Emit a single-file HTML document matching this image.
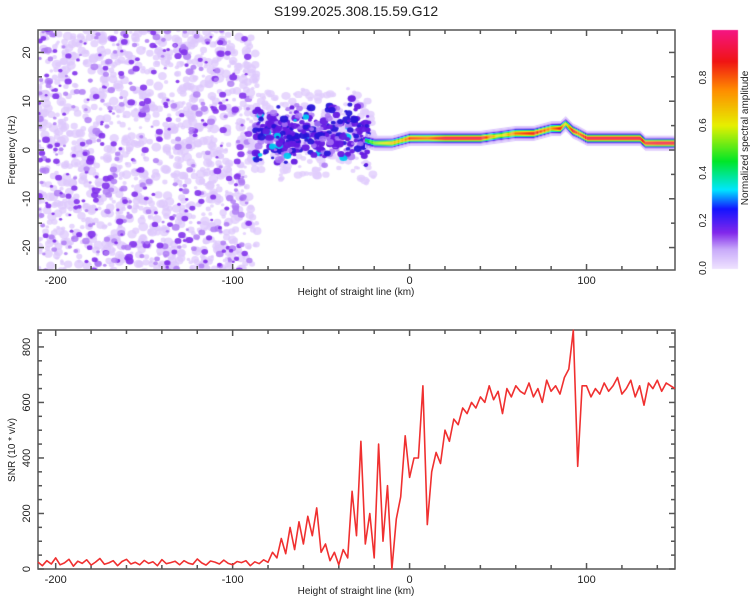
<!DOCTYPE html>
<html><head><meta charset="utf-8"><style>
body{margin:0;background:#fff;width:750px;height:600px;overflow:hidden;font-family:"Liberation Sans",sans-serif}
#wrap{position:relative;width:750px;height:600px}
canvas,svg{position:absolute;left:0;top:0}
</style></head><body>
<div id="wrap">
<canvas id="hm" width="750" height="600"></canvas>
<svg id="svg" width="750" height="600"></svg>
</div>
<script>
// ---- data ----
const ridgeHeights = [-88,-80,-70,-60,-50,-40,-30,-25,-20,-10,-5,0,10,20,40,50,60,70,80,85,88,92,95,100,110,120,130,133,140,150];
const ridgeFreq    = [3,3,2.5,4,3,4,3.5,2,1.5,1.5,2,2.5,2.5,2.5,2.5,3,3.5,3.5,4.5,4.5,5.5,4,3.5,2.5,2.5,2.5,2.5,1.5,1.5,1.5];
const ridgeAmp     = [0.2,0.22,0.22,0.25,0.22,0.25,0.22,0.45,0.55,0.7,0.7,0.85,0.8,0.95,0.95,0.6,0.8,0.9,0.75,0.9,0.6,0.95,0.8,0.95,0.95,0.95,0.95,0.9,0.95,0.95];
const snrStart = -210, snrStep = 2.5;
const snrValues = [25,12,30,18,40,15,22,35,10,28,
20,33,14,25,38,17,22,30,12,27,
35,18,24,15,31,20,26,12,34,19,
23,28,15,30,21,17,36,22,14,29,
25,18,32,20,15,27,23,30,12,26,
19,33,24,60,40,110,55,150,70,170,
90,190,120,220,60,90,30,60,15,70,
40,280,120,460,90,200,40,450,100,300,
0,180,260,480,330,400,400,660,160,350,
420,380,500,460,540,520,580,560,600,580,
620,600,660,610,640,560,650,620,660,640,
630,670,620,650,600,680,640,660,630,690,
720,860,370,660,660,620,650,630,670,640,
660,690,630,650,680,620,660,590,670,650,
680,640,670,660,650];
const xTicks = [-200,-100,0,100];
const topYTicks = [-20,-10,0,10,20];
const botYTicks = [0,200,400,600,800];
const cbTicks = [0.0,0.2,0.4,0.6,0.8];

// ---- geometry ----
const PL=38, PR=675, T1=30, B1=270, T2=330, B2=569;
const XMIN=-210, XMAX=150;
const sx = v => PL + (v-XMIN)/(XMAX-XMIN)*(PR-PL);
const syF = v => T1 + (24.6-v)/(49.2)*(B1-T1);
const syS = v => B2 - v/861*(B2-T2);
const CBX=712, CBW=26, CBT=30, CBB=268;
const syC = v => CBB - v*(CBB-CBT);

function cmap(t){
  const stops=[[0,[238,226,255]],[0.08,[200,170,250]],[0.15,[130,40,235]],[0.25,[20,20,255]],[0.33,[0,230,255]],[0.45,[0,230,40]],[0.6,[230,240,0]],[0.75,[255,140,0]],[0.87,[240,20,20]],[1,[245,20,130]]];
  t=Math.max(0,Math.min(1,t));
  for(let i=1;i<stops.length;i++){ if(t<=stops[i][0]){const a=stops[i-1],b=stops[i];const f=(t-a[0])/(b[0]-a[0]);
    return a[1].map((c,k)=>Math.round(c+(b[1][k]-c)*f));}}
  return stops[stops.length-1][1];
}
function interp(xs,ys,x){ if(x<=xs[0])return ys[0]; for(let i=1;i<xs.length;i++) if(x<=xs[i]){const f=(x-xs[i-1])/(xs[i]-xs[i-1]);return ys[i-1]+(ys[i]-ys[i-1])*f;} return ys[ys.length-1]; }

// ---- heatmap ----
const ctx=document.getElementById('hm').getContext('2d');
ctx.save(); ctx.beginPath(); ctx.rect(PL,T1,PR-PL,B1-T1); ctx.clip();
let seed=12345; const rnd=()=>{seed=(seed*1103515245+12345)%2147483648;return seed/2147483648;};
// noise texture left region
for(let i=0;i<1250;i++){ const h=XMIN+rnd()*(-86-XMIN), f=-25+rnd()*50, r=1.5+rnd()*3;
  ctx.fillStyle='rgba(222,200,252,0.75)'; ctx.beginPath(); ctx.ellipse(sx(h),syF(f),r*1.1,r,0,0,7); ctx.fill(); }
for(let i=0;i<450;i++){ const h=XMIN+rnd()*(-90-XMIN), f=-25+rnd()*50, r=1.2+rnd()*2.2;
  ctx.fillStyle=rnd()<0.5?'rgba(130,50,235,0.9)':'rgba(175,125,245,0.85)'; ctx.beginPath(); ctx.ellipse(sx(h),syF(f),r*1.2,r,0,0,7); ctx.fill(); }
// scatter around noisy ridge
for(let i=0;i<200;i++){ const h=-90+rnd()*70, fr=interp(ridgeHeights,ridgeFreq,h), f=fr+(rnd()-0.5)*18, r=1.5+rnd()*2.5;
  ctx.fillStyle='rgba(225,205,252,0.8)'; ctx.beginPath(); ctx.ellipse(sx(h),syF(f),r*1.2,r,0,0,7); ctx.fill(); }
for(let i=0;i<380;i++){ const h=-88+rnd()*65, fr=interp(ridgeHeights,ridgeFreq,h), f=fr+(rnd()-0.5)*14*(rnd()*0.7+0.3), r=1.3+rnd()*2.3;
  const q=rnd(); ctx.fillStyle=q<0.25?'rgba(170,120,245,0.85)':(q<0.7?'rgba(100,25,225,0.95)':(q<0.94?'rgba(40,20,215,0.95)':'rgba(0,200,240,0.95)'));
  ctx.beginPath(); ctx.ellipse(sx(h),syF(f),r*1.2,r,0,0,7); ctx.fill(); }
// ridge band
for(let px=Math.floor(sx(-25)); px<=PR; px++){
  const h=XMIN+(px-PL)/(PR-PL)*(XMAX-XMIN);
  const fr=interp(ridgeHeights,ridgeFreq,h), a=interp(ridgeHeights,ridgeAmp,h);
  const cy=syF(fr), s=2.4, halo=0.1;
  for(let dy=-12;dy<=12;dy++){
    let v=a*Math.exp(-dy*dy/(2*s*s)); if(v<0.05){ v = halo*Math.exp(-dy*dy/50); if(v<0.03) continue; }
    const c=cmap(v); ctx.fillStyle=`rgb(${c[0]},${c[1]},${c[2]})`; ctx.fillRect(px,cy+dy,1,1);
  }
}
ctx.restore();
// colorbar
for(let y=CBT;y<=CBB;y++){ const c=cmap((CBB-y)/(CBB-CBT)); ctx.fillStyle=`rgb(${c[0]},${c[1]},${c[2]})`; ctx.fillRect(CBX,y,CBW,1); }

// ---- svg ----
const NS='http://www.w3.org/2000/svg', svg=document.getElementById('svg');
function el(tag,attrs,txt){const e=document.createElementNS(NS,tag);for(const k in attrs)e.setAttribute(k,attrs[k]);if(txt!==undefined)e.textContent=txt;svg.appendChild(e);return e;}
const ax='#555';
function frame(T,B,name){
  const r=el('rect',{x:PL,y:T,width:PR-PL,height:B-T,fill:'none',stroke:ax,'stroke-width':1.5});
   
  for(let v=-200;v<=140;v+=20){ const x=sx(v), L=(v%100===0)?6:4;
    const t1=el('line',{x1:x,x2:x,y1:B,y2:B-L,stroke:ax,'stroke-width':1.5});
     
    const t2=el('line',{x1:x,x2:x,y1:T,y2:T+L,stroke:ax,'stroke-width':1.5});
      }
  xTicks.forEach(v=>{const t=el('text',{x:sx(v),y:B+14,'font-size':11,'text-anchor':'middle',fill:'#222'},String(v));
     });
  const xl=el('text',{x:356,y:B+25,'font-size':10,'text-anchor':'middle',fill:'#222'},'Height of straight line (km)');
   
}
frame(T1,B1,'spectrogram-plot-frame');
frame(T2,B2,'snr-plot-frame');
for(let v=-20;v<=20;v+=5){const y=syF(v),L=v%10===0?6:4;
  const a=el('line',{x1:PL,x2:PL+L,y1:y,y2:y,stroke:ax,'stroke-width':1.5});  
  const b=el('line',{x1:PR,x2:PR-L,y1:y,y2:y,stroke:ax,'stroke-width':1.5});  }
topYTicks.forEach(v=>{const y=syF(v);const t=el('text',{x:0,y:0,'font-size':11,'text-anchor':'middle',fill:'#222',transform:`translate(${PL-8},${y}) rotate(-90)`},String(v));
   });
for(let v=0;v<=850;v+=50){const y=syS(v),L=v%200===0?6:4;
  const a=el('line',{x1:PL,x2:PL+L,y1:y,y2:y,stroke:ax,'stroke-width':1.5});  
  const b=el('line',{x1:PR,x2:PR-L,y1:y,y2:y,stroke:ax,'stroke-width':1.5});  }
botYTicks.forEach(v=>{const y=syS(v);const t=el('text',{x:0,y:0,'font-size':11,'text-anchor':'middle',fill:'#222',transform:`translate(${PL-8},${y}) rotate(-90)`},String(v));
   });
const yl1=el('text',{x:0,y:0,'font-size':10,'text-anchor':'middle',fill:'#222',transform:`translate(15,150) rotate(-90)`},'Frequency (Hz)');
 
const yl2=el('text',{x:0,y:0,'font-size':10,'text-anchor':'middle',fill:'#222',transform:`translate(15,450) rotate(-90)`},'SNR (10 * v/v)');
 
const ttl=el('text',{x:356,y:16,'font-size':14,'text-anchor':'middle',fill:'#222'},'S199.2025.308.15.59.G12');
 
// snr line
let d='';
snrValues.forEach((v,i)=>{const x=sx(snrStart+i*snrStep); d+=(i?'L':'M')+x.toFixed(1)+','+syS(v).toFixed(1);});
const ln=el('path',{d:d,fill:'none',stroke:'#f03030','stroke-width':1.6,'stroke-linejoin':'round'});
 
// colorbar labels
cbTicks.forEach(v=>{const y=syC(v);const t=el('text',{x:0,y:0,'font-size':10,'text-anchor':'middle',fill:'#222',transform:`translate(706,${y}) rotate(-90)`},v.toFixed(1));
   });
const cbt=el('text',{x:0,y:0,'font-size':10,'text-anchor':'middle',fill:'#222',transform:`translate(748,138) rotate(-90)`},'Normalized spectral amplitude');
 
</script>
</body></html>
